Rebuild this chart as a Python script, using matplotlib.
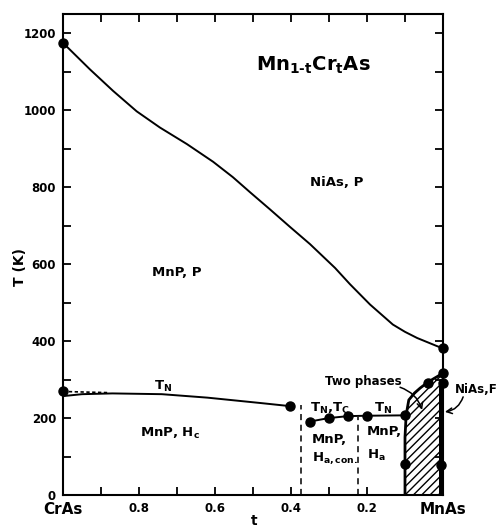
import numpy as np
from matplotlib import pyplot as plt
from matplotlib.ticker import MultipleLocator, FixedLocator
import matplotlib

matplotlib.rcParams['font.family'] = 'DejaVu Sans'
matplotlib.rcParams['font.weight'] = 'bold'
matplotlib.rcParams['hatch.linewidth'] = 1.0

# NiAs <-> MnP structural transition
t_struct = [1.0, 0.929, 0.868, 0.806, 0.745, 0.674, 0.605, 0.553, 0.508, 0.455,
            0.403, 0.35, 0.284, 0.245, 0.192, 0.132, 0.10, 0.068, 0.016, 0.0]
T_struct = [1175, 1106, 1050, 997, 955, 912, 866, 826, 787, 742,
            697, 652, 590, 548, 495, 443, 424, 408, 387, 381]

# T_N on the Cr-rich side
t_neel = [1.0, 0.95, 0.87, 0.74, 0.62, 0.48, 0.403]
T_neel = [257, 262, 264, 262, 253, 239, 231]
t_neel_dash = [1.0, 0.88]
T_neel_dash = [269, 266]

# T_N, T_C in the middle range
t_mid = [0.35, 0.30, 0.25, 0.20, 0.10]
T_mid = [191, 200, 205, 206, 207]

# two phase region boundary
t_two = [0.10, 0.10, 0.097, 0.09, 0.075, 0.06, 0.04, 0.025, 0.013, 0.0]
T_two = [0, 150, 208, 247, 265, 278, 293, 302, 309, 317]

# measured points
t_pts = [1.0, 1.0, 0.403, 0.35, 0.30, 0.25, 0.20, 0.10, 0.10, 0.04, 0.0, 0.0, 0.0, 0.005]
T_pts = [1175, 270, 231, 191, 200, 205, 206, 207, 80, 291, 381, 317, 291, 78]

# dashed phase borders
t_borders = [0.374, 0.223]
T_borders = [234, 203]

x_ticks = [1.0, 0.8, 0.6, 0.4, 0.2, 0.0]
x_labels = ['CrAs', '0.8', '0.6', '0.4', '0.2', 'MnAs']

fig = plt.figure(figsize=(5.01, 5.27), dpi=100)
ax = fig.add_axes([63 / 501, 32 / 527, 380 / 501, 481 / 527])

ax.plot(t_struct, T_struct, 'k-', lw=1.4)
ax.plot(t_neel, T_neel, 'k-', lw=1.4)
ax.plot(t_neel_dash, T_neel_dash, 'k', lw=1.2, ls=(0, (2, 1.5)))
ax.plot(t_mid, T_mid, 'k-', lw=1.4)

for tb, Tb in zip(t_borders, T_borders):
    ax.plot([tb, tb], [0, Tb], 'k', lw=1.1, ls=(0, (4, 3)))

# two phases, hatched
ax.fill(t_two + [0.0], T_two + [0], facecolor='white', edgecolor='k',
        hatch='////', lw=0)
ax.plot(t_two, T_two, 'k-', lw=2.0)
# NiAs, F
ax.fill_betweenx([0, 300], 0.0, 0.011, color='k', lw=0)
ax.plot([0.0, 0.0], [317, 381], 'k', lw=1.4, ls=(0, (5, 3)))

ax.plot(t_pts, T_pts, 'ko', ms=6.5, clip_on=False, zorder=5)

ax.set_xlim(1.0, 0.0)
ax.set_ylim(0, 1250)

ax.xaxis.set_major_locator(FixedLocator(x_ticks))
ax.set_xticklabels(x_labels)
ax.xaxis.set_minor_locator(MultipleLocator(0.1))
ax.yaxis.set_major_locator(MultipleLocator(200))
ax.yaxis.set_minor_locator(MultipleLocator(100))
ax.tick_params(which='both', direction='in', length=6, width=1.3,
               top=True, right=True, labelsize=8.5)
ax.tick_params(axis='x', pad=5)
ax.tick_params(axis='y', pad=5)
for lab in ax.get_xticklabels():
    if lab.get_text() in ('CrAs', 'MnAs'):
        lab.set_fontsize(11)
for sp in ax.spines.values():
    sp.set_linewidth(1.5)

ax.set_xlabel('t', fontsize=10, fontweight='bold')
ax.xaxis.label.set_va('center')
ax.xaxis.set_label_coords(0.503, -0.054)
ax.set_ylabel('T (K)', fontsize=10, fontweight='bold')
ax.yaxis.label.set_va('center')
ax.yaxis.set_label_coords(-0.113, 0.474)

ax.text(0.342, 1117, r'Mn$_\mathbf{1\text{-}t}$Cr$_\mathbf{t}$As', fontsize=14,
        ha='center', va='center')
ax.text(0.279, 813, 'NiAs, P', fontsize=9.5, ha='center', va='center')
ax.text(0.70, 579, 'MnP, P', fontsize=9.5, ha='center', va='center')
ax.text(0.718, 161, r'MnP, H$_\mathbf{c}$', fontsize=9.5, ha='center', va='center')
ax.text(0.737, 281, r'T$_\mathbf{N}$', fontsize=9.5, ha='center', va='center')
ax.text(0.297, 226, r'T$_\mathbf{N}$,T$_\mathbf{C}$', fontsize=9.5,
        ha='center', va='center')
ax.text(0.158, 226, r'T$_\mathbf{N}$', fontsize=9.5, ha='center', va='center')
ax.text(0.345, 143, 'MnP,', fontsize=9.5, ha='left', va='center')
ax.text(0.345, 96, r'H$_\mathbf{a,con.}$', fontsize=9.5, ha='left', va='center')
ax.text(0.200, 164, 'MnP,', fontsize=9.5, ha='left', va='center')
ax.text(0.200, 104, r'H$_\mathbf{a}$', fontsize=9.5, ha='left', va='center')

ax.text(0.21, 294, 'Two phases', fontsize=8.5, ha='center', va='center')
ax.annotate('', xy=(0.055, 221), xytext=(0.113, 280),
            arrowprops=dict(arrowstyle='->', color='k', lw=1.1,
                            connectionstyle='arc3,rad=-0.25',
                            shrinkA=0, shrinkB=0),
            annotation_clip=False)
ax.text(-0.032, 273, 'NiAs,F', fontsize=8.5, ha='left', va='center',
        clip_on=False)
ax.annotate('', xy=(-0.005, 216), xytext=(-0.053, 255),
            arrowprops=dict(arrowstyle='->', color='k', lw=1.1,
                            connectionstyle='arc3,rad=-0.3',
                            shrinkA=0, shrinkB=0),
            annotation_clip=False)

fig.savefig('out.png', dpi=100)
